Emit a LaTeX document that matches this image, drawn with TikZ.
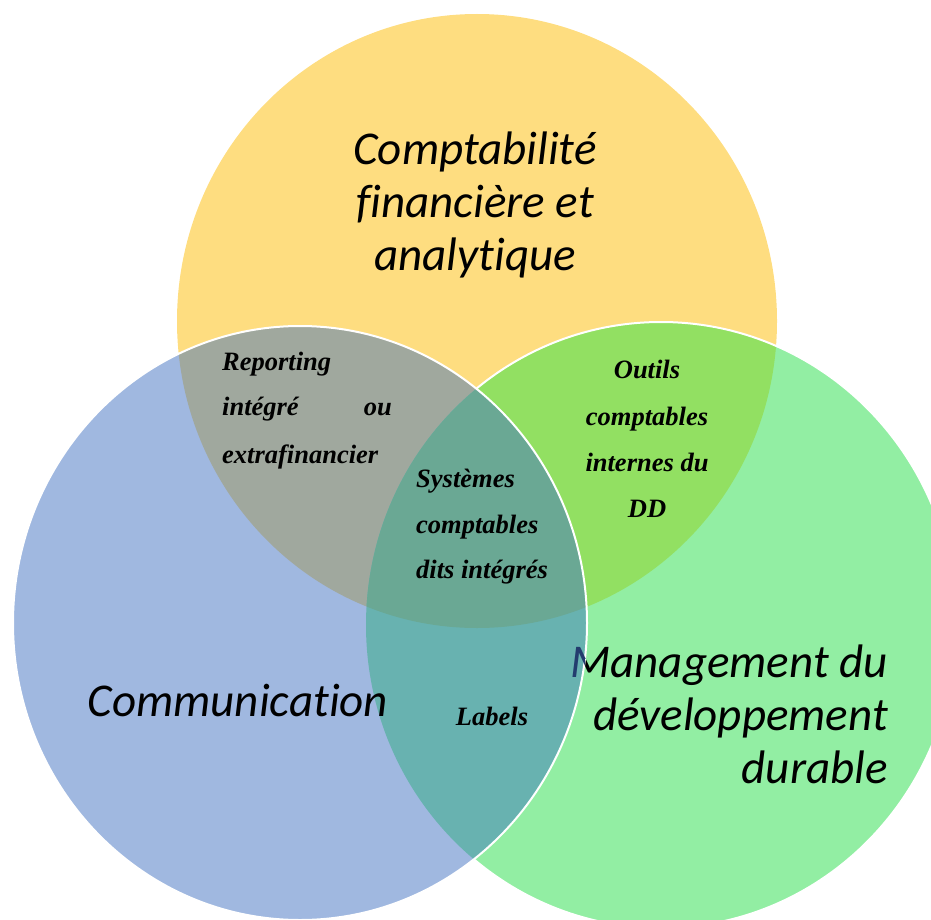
\documentclass[tikz,border=0pt]{standalone}
\usepackage{fontspec}
\setmainfont{Liberation Serif}
\newfontfamily\calibri[Ligatures=NoCommon]{Carlito}
\definecolor{comptafill}{RGB}{254,221,128}
\definecolor{mgmtfill}{RGB}{146,238,163}
\definecolor{commfill}{RGB}{160,184,224}
\definecolor{comptamgmt}{RGB}{146,224,98}
\definecolor{comptacomm}{RGB}{160,168,158}
\definecolor{mgmtcomm}{RGB}{104,178,176}
\definecolor{allthree}{RGB}{106,168,148}
\definecolor{tintM}{RGB}{35,60,110}
\tikzset{
  bigtext/.style={font=\calibri\itshape\fontsize{47}{52}\selectfont, inner sep=0pt},
  smalltext/.style={font=\bfseries\itshape\fontsize{26.5}{30}\selectfont, inner sep=0pt},
  rim/.style={draw=white, line width=2pt},
  comptashape/.style={x radius=300pt, y radius=307pt},
  mgmtshape/.style={x radius=295pt, y radius=303pt},
  commshape/.style={x radius=287pt, y radius=297pt}
}
\begin{document}
\begin{tikzpicture}[x=1pt,y=-1pt]
    \useasboundingbox (0,0) rectangle (931,920);
    \coordinate (cc) at (477,321);
    \coordinate (cm) at (661,625);
    \coordinate (co) at (300,623);
    % comptabilite, then management over it
    \fill [comptafill] (cc) ellipse [comptashape];
    \fill [mgmtfill] (cm) ellipse [mgmtshape];
    \begin{scope}
      \clip (cc) ellipse [comptashape];
      \fill [comptamgmt] (cm) ellipse [mgmtshape];
    \end{scope}
    \draw [rim] (cm) ellipse [mgmtshape];
    % management text sits below the communication disc
    \node [bigtext, anchor=base east] (mg1) at (888,677) {Management du};
    % communication on top
    \fill [commfill] (co) ellipse [commshape];
    \begin{scope}
      \clip (cc) ellipse [comptashape];
      \fill [comptacomm] (co) ellipse [commshape];
    \end{scope}
    \begin{scope}
      \clip (cm) ellipse [mgmtshape];
      \fill [mgmtcomm] (co) ellipse [commshape];
      \clip (cc) ellipse [comptashape];
      \fill [allthree] (co) ellipse [commshape];
    \end{scope}
    \draw [rim] (co) ellipse [commshape];
    \begin{scope}
      \clip (co) ellipse [commshape];
      \node [bigtext, anchor=base east, text=tintM] (mg1b) at (888,677) {Management du};
    \end{scope}
    % big labels
    \node [bigtext, anchor=base] (cp1) at (475,165) {Comptabilité};
    \node [bigtext, anchor=base] (cp2) at (475,218) {financière et};
    \node [bigtext, anchor=base] (cp3) at (475,270) {analytique};
    \node [bigtext, anchor=base] (com) at (238,716) {Communication};
    \node [bigtext, anchor=base east] (mg2) at (888,730) {développement};
    \node [bigtext, anchor=base east] (mg3) at (888,783) {durable};
    % small labels
    \node [smalltext, anchor=base west] (rp1) at (222,370) {Reporting};
    \node [smalltext, anchor=base west] (rp2) at (222,415) {intégré};
    \node [smalltext, anchor=base east] (rp3) at (392,415) {ou};
    \node [smalltext, anchor=base west] (rp4) at (222,463) {extrafinancier};
    \node [smalltext, anchor=base west] (sy1) at (416,487) {Systèmes};
    \node [smalltext, anchor=base west] (sy2) at (416,533) {comptables};
    \node [smalltext, anchor=base west] (sy3) at (416,578) {dits intégrés};
    \node [smalltext, anchor=base] (ou1) at (647,378) {Outils};
    \node [smalltext, anchor=base] (ou2) at (647,425) {comptables};
    \node [smalltext, anchor=base] (ou3) at (647,471) {internes du};
    \node [smalltext, anchor=base] (ou4) at (647,517) {DD};
    \node [smalltext, anchor=base] (lab) at (492,725) {Labels};
\end{tikzpicture}
\end{document}
